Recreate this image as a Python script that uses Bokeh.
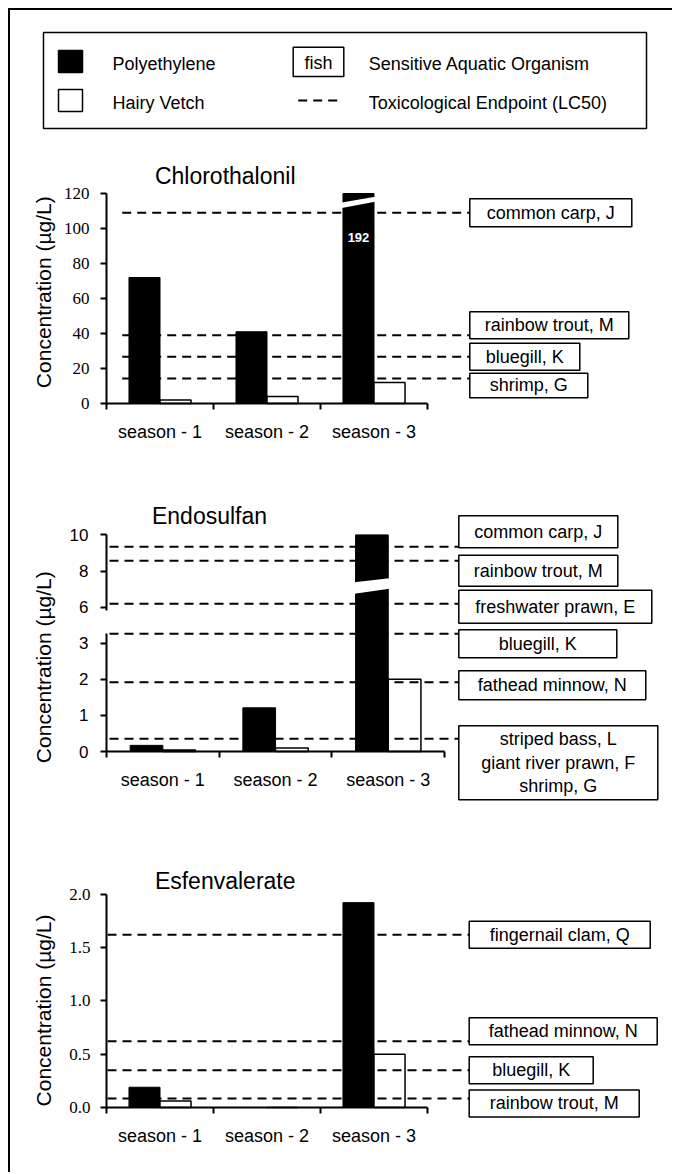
import numpy as np
from bokeh.plotting import figure
from bokeh.layouts import column
from bokeh.models import Range1d, FixedTicker
from bokeh.core.properties import value
from bokeh.embed import file_html
from bokeh.resources import INLINE

# ---------------- data ----------------
seasons = ["season - 1", "season - 2", "season - 3"]
series_names = ["Polyethylene", "Hairy Vetch"]
key_names = ["Sensitive Aquatic Organism", "Toxicological Endpoint (LC50)"]
key_fish = "fish"
y_title = "Concentration (µg/L)"

chl_title = "Chlorothalonil"
chl_poly = [72, 41, 192]
chl_vetch = [2, 4, 12]
chl_lc50_names = ["common carp, J", "rainbow trout, M", "bluegill, K", "shrimp, G"]
chl_lc50 = [109, 39, 26.7, 14.3]
chl_yticks = [0, 20, 40, 60, 80, 100, 120]
chl_ylabels = ["0", "20", "40", "60", "80", "100", "120"]

endo_title = "Endosulfan"
endo_poly = [0.17, 1.21, 10]
endo_vetch = [0.04, 0.1, 2.0]
endo_lc50_names = ["common carp, J", "rainbow trout, M", "freshwater prawn, E",
                   "bluegill, K", "fathead minnow, N",
                   "striped bass, L\ngiant river prawn, F\nshrimp, G"]
endo_lc50 = [9.34, 8.57, 6.19, 3.26, 1.92, 0.35]
endo_yticks = [0, 1, 2, 3, 6, 8, 10]
endo_ylabels = ["0", "1", "2", "3", "6", "8", "10"]

esf_title = "Esfenvalerate"
esf_poly = [0.19, 0.0, 1.92]
esf_vetch = [0.06, 0.0, 0.5]
esf_lc50_names = ["fingernail clam, Q", "fathead minnow, N", "bluegill, K", "rainbow trout, M"]
esf_lc50 = [1.62, 0.62, 0.35, 0.085]
esf_yticks = [0.0, 0.5, 1.0, 1.5, 2.0]
esf_ylabels = ["0.0", "0.5", "1.0", "1.5", "2.0"]

# ---------------- layout / style ----------------
PAGE_X0 = 10          # page x of the figures' left edge (after margin + frame line)
AXIS_PX = 106         # page x of every y axis
FIG_W = 662
SANS = "Liberation Sans"
SERIF = "Liberation Serif"


def ident(v):
    return np.asarray(v, dtype=float)


def endo_scale(v):
    v = np.asarray(v, dtype=float)
    return np.where(v <= 4.5, v, 4.0 + (v - 6.0) / 2.0)


def build_panel(title, poly, vetch, names, lc, yticks, ylabels, tf, cfg):
    top, h = cfg["page_top"], cfg["height"]
    cw, y0, ppu = cfg["cw"], cfg["y0"], cfg["ppu"]
    p = figure(width=FIG_W, height=h,
               x_range=Range1d((PAGE_X0 - AXIS_PX) / cw, (PAGE_X0 + FIG_W - AXIS_PX) / cw),
               y_range=Range1d((y0 - (top + h)) / ppu, (y0 - top) / ppu),
               toolbar_location=None, output_backend="svg",
               min_border_left=0, min_border_right=0, min_border_top=0, min_border_bottom=0,
               background_fill_color="white", border_fill_color="white", outline_line_color=None)
    p.grid.visible = False

    def px2x(px):
        return (px - AXIS_PX) / cw

    def py2y(py):
        return (y0 - py) / ppu

    n = len(seasons)
    xc = np.arange(n) + 0.5
    ymax_t = float(tf([yticks[-1]])[0])

    # x axis (drawn at value 0)
    xa = p.xaxis[0]
    xa.fixed_location = 0
    xa.bounds = (0, n)
    xa.ticker = FixedTicker(ticks=list(xc), minor_ticks=list(range(n + 1)))
    xa.major_label_overrides = {float(c): s for c, s in zip(xc, seasons)}
    xa.major_tick_in = 0
    xa.major_tick_out = 0
    xa.minor_tick_in = 0
    xa.minor_tick_out = 6
    xa.minor_tick_line_width = 2
    xa.minor_tick_line_color = "black"
    xa.axis_line_width = 2
    xa.axis_line_color = "black"
    xa.major_label_text_font = SANS
    xa.major_label_text_font_size = "18px"
    xa.major_label_text_color = "black"
    xa.major_label_standoff = 12

    # y axis (drawn at x = 0)
    ya = p.yaxis[0]
    ya.fixed_location = 0
    tvals = [float(t) for t in tf(yticks)]
    ya.bounds = (0, ymax_t)
    ya.ticker = FixedTicker(ticks=tvals)
    ya.major_label_overrides = {t: s for t, s in zip(tvals, ylabels)}
    ya.major_tick_in = 0
    ya.major_tick_out = 6
    ya.major_tick_line_width = 2
    ya.minor_tick_out = 0
    ya.minor_tick_in = 0
    ya.axis_line_width = 2
    ya.axis_line_color = "black"
    if cfg.get("axis_dash"):
        ya.axis_line_dash = cfg["axis_dash"]
    ya.major_label_text_font = cfg["tick_font"]
    ya.major_label_text_font_size = cfg["tick_size"]
    ya.major_label_text_color = "black"
    ya.major_label_standoff = cfg["ylab_standoff"]

    # y axis title
    p.text(x=[px2x(43)], y=[py2y(cfg["ytitle_py"])], text=[y_title], angle=np.pi / 2,
           text_font=value(SANS), text_font_size="21px", text_color="black",
           text_align="center", text_baseline="middle")

    # bars
    bw = 0.29
    poly_t = tf(poly)
    vetch_t = tf(vetch)
    poly_draw = np.minimum(poly_t, ymax_t)
    p.vbar(x=xc - bw / 2, top=poly_draw, width=bw, fill_color="black", line_color="black", line_width=1)
    p.vbar(x=xc + bw / 2, top=vetch_t, width=bw, fill_color="white", line_color="black", line_width=1.5)

    # axis-break marks on bars that run off the scale
    for i in range(n):
        if poly_t[i] >= ymax_t and "brk" in cfg:
            yl0, yl1, yr0, yr1 = cfg["brk"]
            xl = xc[i] - bw - 0.01
            xr = xc[i] + 0.01
            p.patch(x=[xl, xr, xr, xl], y=[yl0, yr0, yr1, yl1], fill_color="white", line_color=None)
            if poly[i] > yticks[-1] and "note_py" in cfg:
                p.text(x=[xc[i] - bw / 2], y=[py2y(cfg["note_py"])], text=[str(poly[i])],
                       text_color="white", text_font=value(SANS), text_font_style="bold",
                       text_font_size="13px", text_align="center", text_baseline="middle")

    # title
    p.text(x=[px2x(cfg["title_px"][0])], y=[py2y(cfg["title_px"][1])], text=[title],
           text_font=value(SANS), text_font_size="23px", text_color="black",
           text_align="center", text_baseline="middle")

    # LC50 lines and organism boxes
    lc_t = tf(lc)
    box_x = px2x(cfg["box_px"])
    p.segment(x0=[px2x(cfg["line_px0"])] * len(lc), x1=[box_x] * len(lc), y0=lc_t, y1=lc_t,
              line_color="black", line_width=2, line_dash="9 6")
    offs = np.array(cfg["box_off"], dtype=float) / ppu
    bwid = np.array(cfg["box_w"], dtype=float) / cw
    bhgt = np.array(cfg["box_h"], dtype=float) / ppu
    yc = lc_t + offs
    p.quad(left=[box_x] * len(lc), right=box_x + bwid, top=yc + bhgt / 2, bottom=yc - bhgt / 2,
           fill_color="white", line_color="black", line_width=1.5)
    p.text(x=box_x + bwid / 2, y=yc, text=names, text_font=value(SANS), text_font_size="18px",
           text_color="black", text_align="center", text_baseline="middle", text_line_height=1.18)
    return p


# ---------------- legend (coordinates are page pixels) ----------------
LEG_TOP, LEG_H = 10, 130
leg = figure(width=FIG_W, height=LEG_H,
             x_range=Range1d(PAGE_X0, PAGE_X0 + FIG_W), y_range=Range1d(LEG_TOP + LEG_H, LEG_TOP),
             toolbar_location=None, output_backend="svg",
             min_border_left=0, min_border_right=0, min_border_top=0, min_border_bottom=0,
             x_axis_location=None, y_axis_location=None, outline_line_color=None)
leg.grid.visible = False
leg.quad(left=[43], right=[646], top=[32], bottom=[128], fill_color=None, line_color="black", line_width=1.5)
leg.quad(left=[58, 58], right=[82, 82], top=[50, 89], bottom=[72, 111],
         fill_color=["black", "white"], line_color="black", line_width=1.5)
leg.text(x=[112, 112], y=[63, 102], text=series_names, text_font=value(SANS), text_font_size="18px",
         text_color="black", text_baseline="middle")
leg.quad(left=[292.7], right=[343.3], top=[46.7], bottom=[76], fill_color="white", line_color="black", line_width=1.5)
leg.text(x=[318], y=[62], text=[key_fish], text_font=value(SANS), text_font_size="18px",
         text_color="black", text_align="center", text_baseline="middle")
leg.segment(x0=[297.7], x1=[338], y0=[100], y1=[100], line_color="black", line_width=2, line_dash="9 6")
leg.text(x=[368.3, 368.3], y=[63, 102], text=key_names, text_font=value(SANS), text_font_size="18px",
         text_color="black", text_baseline="middle")

# ---------------- panels ----------------
p1 = build_panel(chl_title, chl_poly, chl_vetch, chl_lc50_names, chl_lc50, chl_yticks, chl_ylabels, ident, dict(
    page_top=140, height=315, cw=107, y0=403, ppu=1.75,
    tick_font=SERIF, tick_size="17px", ylab_standoff=11, ytitle_py=291.7,
    brk=(111.7, 114.9, 115.3, 118.1), note_py=236.7,
    title_px=(224.7, 175),
    box_px=469.3, line_px0=121.7,
    box_off=[0, 10, 0, -7], box_w=[162, 159, 110, 118], box_h=[28, 27, 27, 24.5]))

p2 = build_panel(endo_title, endo_poly, endo_vetch, endo_lc50_names, endo_lc50, endo_yticks, endo_ylabels,
                 endo_scale, dict(
    page_top=455, height=365, cw=112.7, y0=751, ppu=36.1,
    tick_font=SANS, tick_size="17px", ylab_standoff=12, ytitle_py=666.7,
    axis_dash="118 23 80",
    brk=(4.37, 4.69, 4.51, 4.80),
    title_px=(209, 515),
    box_px=458.3, line_px0=109,
    box_off=[15, -10, -3, -10, -3, -24], box_w=[159, 159, 193, 158, 187, 199],
    box_h=[32, 31, 33, 28, 29, 74]))

p3 = build_panel(esf_title, esf_poly, esf_vetch, esf_lc50_names, esf_lc50, esf_yticks, esf_ylabels, ident, dict(
    page_top=820, height=352, cw=107, y0=1107, ppu=106.7,
    tick_font=SERIF, tick_size="17px", ylab_standoff=10, ytitle_py=1010,
    title_px=(224.7, 880),
    box_px=468.7, line_px0=107,
    box_off=[0, 10, 0, -5], box_w=[181, 188, 124, 170], box_h=[27, 27, 27, 27]))

layout = column(leg, p1, p2, p3, spacing=0,
                styles={"margin": "8px 0px 0px 8px",
                        "border-left": "2px solid black", "border-top": "2px solid black"})

open("out.html", "w").write(file_html(layout, INLINE))
